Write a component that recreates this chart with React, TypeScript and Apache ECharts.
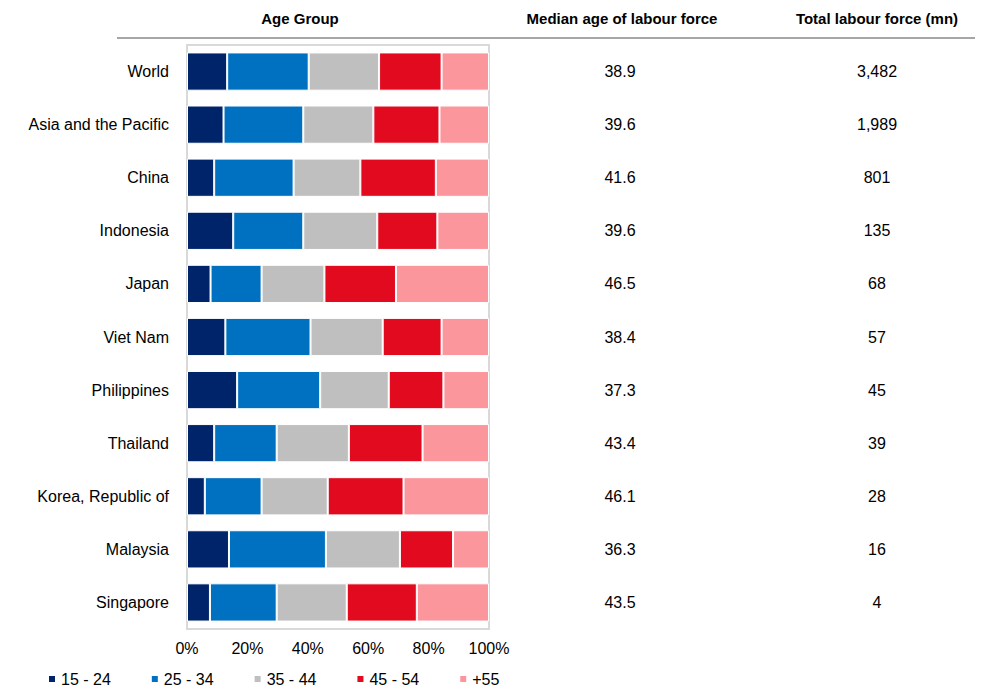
import React, { useEffect, useRef } from "react";
import * as echarts from "echarts";

const countries = [
  "World",
  "Asia and the Pacific",
  "China",
  "Indonesia",
  "Japan",
  "Viet Nam",
  "Philippines",
  "Thailand",
  "Korea, Republic of",
  "Malaysia",
  "Singapore",
];

const ageGroups = ["15 - 24", "25 - 34", "35 - 44", "45 - 54", "+55"];

const age15to24 = [13.3, 12.1, 9.0, 15.3, 7.8, 12.7, 16.6, 9.0, 5.9, 13.9, 7.6];
const age25to34 = [27.0, 26.4, 26.3, 23.2, 16.9, 28.2, 27.5, 20.7, 18.8, 32.1, 22.1];
const age35to44 = [23.3, 23.2, 22.1, 24.5, 20.8, 23.9, 22.7, 23.9, 21.9, 24.5, 23.2];
const age45to54 = [20.7, 21.9, 25.0, 19.9, 23.7, 19.5, 18.1, 24.4, 25.1, 17.6, 23.2];
const age55plus = [15.7, 16.4, 17.6, 17.1, 30.8, 15.7, 15.1, 22.0, 28.3, 11.9, 23.9];

const medianAge = ["38.9", "39.6", "41.6", "39.6", "46.5", "38.4", "37.3", "43.4", "46.1", "36.3", "43.5"];
const totalLabour = ["3,482", "1,989", "801", "135", "68", "57", "45", "39", "28", "16", "4"];

const xTicks = { min: 0, max: 100, interval: 20 };

const colors = ["#00246A", "#0070C0", "#BFBFBF", "#E10A1E", "#FB969D"];

const headers = [
  { text: "Age Group", x: 300 },
  { text: "Median age of labour force", x: 622 },
  { text: "Total labour force (mn)", x: 877 },
];

const FONT = "'Liberation Sans', Arial, sans-serif";

export default function App() {
  const ref = useRef<HTMLDivElement>(null);

  useEffect(() => {
    if (!ref.current) return;
    const chart = echarts.init(ref.current, undefined, { renderer: "svg" });
    const seriesValues = [age15to24, age25to34, age35to44, age45to54, age55plus];

    const sideAxis = (labels: string[], offset: number) => ({
      type: "category",
      data: countries,
      inverse: true,
      position: "right",
      offset,
      axisLine: { show: false },
      axisTick: { show: false },
      axisLabel: {
        margin: 0,
        align: "center",
        fontSize: 16,
        color: "#000",
        fontFamily: FONT,
        padding: [8, 0, 0, 0],
        formatter: (_v: string, i: number) => labels[i],
      },
    });

    chart.setOption({
      animation: false,
      textStyle: { fontFamily: FONT },
      color: colors,
      grid: {
        left: 187,
        right: 500,
        top: 45,
        bottom: 62,
        show: true,
        borderColor: "#D9D9D9",
        borderWidth: 2,
      },
      legend: {
        data: ageGroups,
        left: 42,
        top: 666,
        icon: "rect",
        itemWidth: 8,
        itemHeight: 8,
        itemGap: 39,
        textStyle: { fontSize: 16, color: "#000", fontFamily: FONT },
      },
      xAxis: {
        type: "value",
        min: xTicks.min,
        max: xTicks.max,
        interval: xTicks.interval,
        axisLine: { show: false },
        axisTick: { show: false },
        splitLine: { show: false },
        axisLabel: {
          formatter: "{value}%",
          fontSize: 16,
          color: "#000",
          margin: 11,
          fontFamily: FONT,
        },
      },
      yAxis: [
        {
          type: "category",
          data: countries,
          inverse: true,
          axisLine: { show: false },
          axisTick: { show: false },
          axisLabel: { fontSize: 16, color: "#000", margin: 18, fontFamily: FONT },
        },
        sideAxis(medianAge, 131),
        sideAxis(totalLabour, 388),
      ],
      series: ageGroups.map((name, i) => ({
        name,
        type: "bar",
        stack: "total",
        yAxisIndex: 0,
        barCategoryGap: "28%",
        data: seriesValues[i],
        itemStyle: { color: colors[i], borderColor: "#FFFFFF", borderWidth: 1 },
      })),
      graphic: [
        {
          type: "line",
          shape: { x1: 117, y1: 38, x2: 975, y2: 38 },
          style: { stroke: "#A6A6A6", lineWidth: 2 },
        },
        ...headers.map((h) => ({
          type: "text",
          x: h.x,
          y: 18,
          style: {
            text: h.text,
            fill: "#000",
            font: `bold 15px ${FONT}`,
            textAlign: "center",
            textVerticalAlign: "middle",
          },
        })),
      ],
    });

    return () => chart.dispose();
  }, []);

  return (
    <div
      ref={ref}
      style={{ position: "absolute", left: 0, top: 0, width: 989, height: 691, background: "#fff" }}
    />
  );
}
